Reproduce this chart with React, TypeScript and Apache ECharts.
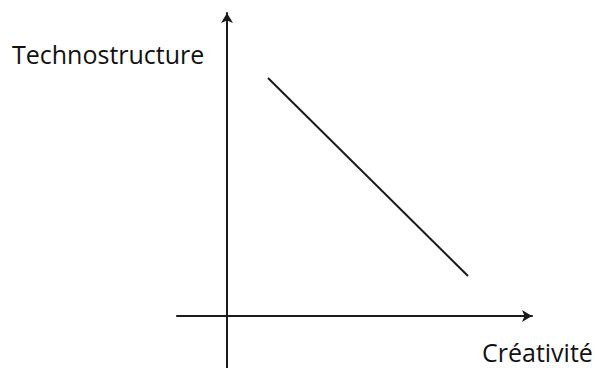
import React, { useEffect, useRef } from "react";
import * as echarts from "echarts";

const xAxisTitle = "Créativité";
const yAxisTitle = "Technostructure";
const lineX = [0.82, 4.82];
const lineY = [4.76, 0.8];
const xRange = [-1, 6.1];
const yRange = [-1.04, 6.06];

export default function App() {
  const ref = useRef<HTMLDivElement>(null);
  useEffect(() => {
    if (!ref.current) return;
    const chart = echarts.init(ref.current, null, { renderer: "svg" });
    const ink = "#1a1a1a";
    const axisCommon = {
      type: "value" as const,
      axisLine: {
        show: true,
        onZero: true,
        symbol: ["none", "arrow"],
        symbolSize: [9, 10],
        lineStyle: { color: ink, width: 2 },
      },
      axisTick: { show: false },
      axisLabel: { show: false },
      splitLine: { show: false },
    };
    chart.setOption({
      animation: false,
      backgroundColor: "#ffffff",
      grid: { left: 177, right: 63, top: 13, bottom: 0, containLabel: false },
      xAxis: { ...axisCommon, min: xRange[0], max: xRange[1] },
      yAxis: { ...axisCommon, min: yRange[0], max: yRange[1] },
      series: [
        {
          type: "line",
          data: lineX.map((x, i) => [x, lineY[i]]),
          symbol: "none",
          lineStyle: { color: ink, width: 2 },
        },
      ],
      graphic: [
        {
          type: "text",
          left: 12,
          top: 41,
          style: {
            text: yAxisTitle,
            fill: "#111",
            font: "25px 'Open Sans'",
          },
        },
        {
          type: "text",
          left: 482,
          top: 339,
          style: {
            text: xAxisTitle,
            fill: "#111",
            font: "25px 'Open Sans'",
          },
        },
      ],
    });
    return () => chart.dispose();
  }, []);
  return (
    <div
      ref={ref}
      style={{ position: "fixed", left: 0, top: 0, width: 595, height: 368 }}
    />
  );
}
